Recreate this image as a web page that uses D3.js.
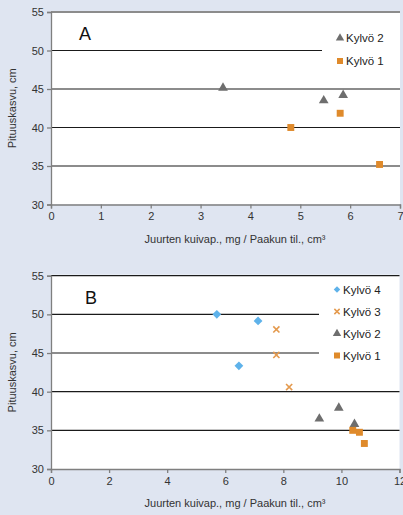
<!DOCTYPE html>
<html>
<head>
<meta charset="utf-8">
<script src="https://cdn.jsdelivr.net/npm/d3@7"></script>
<style>
  body { margin: 0; background: #dfe5f1; }
  svg { display: block; font-family: "Liberation Sans", Arial, sans-serif; }
</style>
</head>
<body>
<div id="chart"></div>
<script>
// panel A
const aK2x = [3.45, 5.47, 5.86];
const aK2y = [45.15, 43.5, 44.2];
const aK1x = [4.81, 5.8, 6.59];
const aK1y = [40.0, 41.85, 35.2];
// panel B
const bK4x = [5.71, 7.13, 6.47];
const bK4y = [50.0, 49.15, 43.35];
const bK3x = [7.76, 7.76, 8.2];
const bK3y = [48.05, 44.75, 40.6];
const bK2x = [9.24, 9.91, 10.45];
const bK2y = [36.5, 37.9, 35.8];
const bK1x = [10.39, 10.62, 10.79];
const bK1y = [35.0, 34.75, 33.3];

const yTicks = [30, 35, 40, 45, 50, 55];
const xTicksA = [0, 1, 2, 3, 4, 5, 6, 7];
const xTicksB = [0, 2, 4, 6, 8, 10, 12];

const colors = { k1: "#df8a2b", k2: "#6e6e6e", k3: "#e49a4e", k4: "#5eb2ea" };

const W = 403, H = 515;
const svg = d3.select("#chart").append("svg").attr("width", W).attr("height", H);
svg.append("rect").attr("width", W).attr("height", H).attr("fill", "#dfe5f1");

const zip = (xs, ys) => xs.map((x, i) => [x, ys[i]]);

function symbolPath(kind, size) {
  if (kind === "k1") return d3.symbol(d3.symbolSquare, size)();
  if (kind === "k2") return d3.symbol(d3.symbolTriangle, size * 0.85)();
  if (kind === "k4") return d3.symbol(d3.symbolSquare, size * 0.8)();
  return d3.symbol(d3.symbolX, size * 0.55)();
}

function symbolTransform(kind, px, py) {
  return `translate(${px},${py})` + (kind === "k4" ? " rotate(45)" : "");
}

function drawPanel(cfg) {
  const x = d3.scaleLinear().domain([0, cfg.xmax]).range([51, cfg.right]);
  const y = d3.scaleLinear().domain([30, 55]).range([cfg.bottom, cfg.top]);
  const g = svg.append("g");

  g.append("rect")
    .attr("x", 51).attr("y", cfg.top - 1)
    .attr("width", cfg.right - 51).attr("height", cfg.bottom - cfg.top + 1)
    .attr("fill", "#fff");

  // gridlines
  g.append("g")
    .selectAll("line")
    .data(yTicks.filter((d) => d > 30))
    .join("line")
    .attr("x1", 51)
    .attr("x2", (d) => (cfg.legendCut.includes(d) ? cfg.legendX : cfg.right))
    .attr("y1", (d) => y(d))
    .attr("y2", (d) => y(d))
    .attr("stroke", "#1a1a1a")
    .attr("stroke-width", 1.2);

  const yAxis = g.append("g")
    .attr("transform", "translate(51,0)")
    .call(d3.axisLeft(y).tickValues(yTicks).tickSize(4).tickPadding(3));
  const xAxis = g.append("g")
    .attr("transform", `translate(0,${cfg.bottom})`)
    .call(d3.axisBottom(x).tickValues(cfg.xTicks).tickSize(4).tickPadding(4)
      .tickFormat(d3.format("d")));
  [yAxis, xAxis].forEach((ax) => {
    ax.select(".domain").attr("stroke", "#7f7f7f").attr("stroke-width", 1.3);
    ax.selectAll(".tick line").attr("stroke", "#7f7f7f").attr("stroke-width", 1.3);
    ax.selectAll("text").attr("font-size", 11).attr("fill", "#333")
      .attr("font-family", "Liberation Sans, Arial, sans-serif");
  });

  g.append("text")
    .attr("x", cfg.letterX).attr("y", cfg.letterY)
    .attr("font-size", 18).attr("fill", "#111")
    .text(cfg.letter);

  g.append("text")
    .attr("transform", "rotate(-90)")
    .attr("x", -(cfg.top + cfg.bottom) / 2)
    .attr("y", 16)
    .attr("text-anchor", "middle")
    .attr("font-size", 11).attr("fill", "#333")
    .text("Pituuskasvu, cm");

  g.append("text")
    .attr("x", 235).attr("y", cfg.bottom + 38)
    .attr("text-anchor", "middle")
    .attr("font-size", 11).attr("fill", "#333")
    .text("Juurten kuivap., mg / Paakun til., cm³");

  cfg.series.forEach((s) => {
    const pts = zip(s.xs, s.ys);
    g.append("g")
      .selectAll("path")
      .data(pts)
      .join("path")
      .attr("transform", (d) => symbolTransform(s.kind, x(d[0]), y(d[1])))
      .attr("d", symbolPath(s.kind, 48))
      .attr("fill", s.kind === "k3" ? "none" : colors[s.kind])
      .attr("stroke", s.kind === "k3" ? colors[s.kind] : "none")
      .attr("stroke-width", 1.6);
  });

  const legend = g.append("g");
  cfg.legend.forEach((s, i) => {
    const ly = cfg.legendY + i * cfg.legendStep;
    legend.append("path")
      .attr("transform", symbolTransform(s.kind, cfg.legendX + 18, ly))
      .attr("d", symbolPath(s.kind, s.kind === "k4" ? 26 : 36))
      .attr("fill", s.kind === "k3" ? "none" : colors[s.kind])
      .attr("stroke", s.kind === "k3" ? colors[s.kind] : "none")
      .attr("stroke-width", 1.5);
    legend.append("text")
      .attr("x", cfg.legendX + 24).attr("y", ly + 4)
      .attr("font-size", 11.5).attr("fill", "#222")
      .text(s.name);
  });
}

drawPanel({
  letter: "A", letterX: 79, letterY: 40,
  xmax: 7, xTicks: xTicksA, right: 400, top: 12, bottom: 204.5,
  legendCut: [50], legendX: 322, legendY: 38, legendStep: 23,
  series: [
    { kind: "k2", xs: aK2x, ys: aK2y },
    { kind: "k1", xs: aK1x, ys: aK1y }
  ],
  legend: [
    { kind: "k2", name: "Kylvö 2" },
    { kind: "k1", name: "Kylvö 1" }
  ]
});

drawPanel({
  letter: "B", letterX: 85, letterY: 304,
  xmax: 12, xTicks: xTicksB, right: 399.5, top: 275.7, bottom: 469,
  legendCut: [50, 45], legendX: 319, legendY: 289.5, legendStep: 22,
  series: [
    { kind: "k4", xs: bK4x, ys: bK4y },
    { kind: "k3", xs: bK3x, ys: bK3y },
    { kind: "k2", xs: bK2x, ys: bK2y },
    { kind: "k1", xs: bK1x, ys: bK1y }
  ],
  legend: [
    { kind: "k4", name: "Kylvö 4" },
    { kind: "k3", name: "Kylvö 3" },
    { kind: "k2", name: "Kylvö 2" },
    { kind: "k1", name: "Kylvö 1" }
  ]
});
</script>
</body>
</html>
